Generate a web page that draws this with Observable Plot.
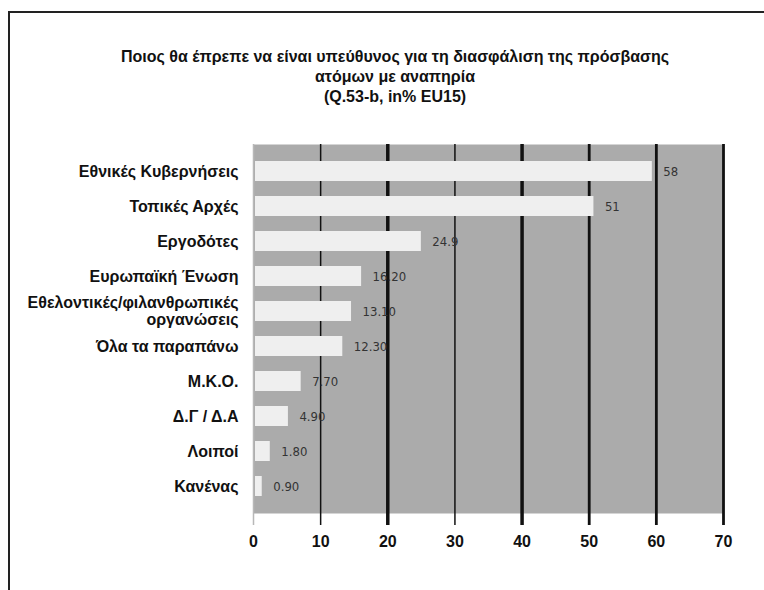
<!DOCTYPE html>
<html><head><meta charset="utf-8">
<script src="https://cdn.jsdelivr.net/npm/d3@7"></script>
<script src="https://cdn.jsdelivr.net/npm/@observablehq/plot@0.6"></script>
<style>
body{margin:0;background:#fff;width:764px;height:590px;overflow:hidden;position:relative;font-family:"Liberation Sans",Arial,sans-serif}
#frame{position:absolute;left:8px;top:11px;width:770px;height:600px;border-left:2px solid #222;border-top:2px solid #222}
#title{position:absolute;left:0;width:790px;top:47px;text-align:center;font-weight:bold;font-size:16px;line-height:20px;color:#111}
#chart{position:absolute;left:0;top:0}
</style></head>
<body>
<div id="frame"></div>
<div id="title">Ποιος θα έπρεπε να είναι υπεύθυνος για τη διασφάλιση της πρόσβασης<br>ατόμων με αναπηρία<br>(Q.53-b, in% EU15)</div>
<div id="chart"></div>
<script>
const categories = ["Εθνικές Κυβερνήσεις","Τοπικές Αρχές","Εργοδότες","Ευρωπαϊκή Ένωση","Εθελοντικές/φιλανθρωπικές\nοργανώσεις","Όλα τα παραπάνω","Μ.Κ.Ο.","Δ.Γ / Δ.Α","Λοιποί","Κανένας"];
const values = [59.4, 50.7, 25.0, 16.1, 14.6, 13.3, 7.1, 5.2, 2.5, 1.3];
const valueLabels = ["58","51","24.9","16.20","13.10","12.30","7.70","4.90","1.80","0.90"];
const xTicks = [0,10,20,30,40,50,60,70];

const data = categories.map((c,i)=>({cat:c, v:values[i], lab:valueLabels[i]}));
const gridW = t => (t===20||t===40) ? 3.5 : (t>=50 ? 2.8 : 1.5);
const gridC = t => t===0 ? "#b8b8b8" : "#111";

const chart = Plot.plot({
  width:764, height:590,
  marginLeft:253, marginRight:41, marginTop:144, marginBottom:77,
  style:{background:"transparent", fontFamily:"'Liberation Sans', Arial, sans-serif"},
  x:{domain:[0,70]},
  y:{domain:categories, padding:0.42},
  marks:[
    Plot.frame({fill:"#ababab", stroke:null}),
    Plot.ruleX(xTicks, {x:d=>d, stroke:gridC, strokeWidth:gridW, insetBottom:-12}),
    Plot.barX(data, {x:"v", y:"cat", fill:"#efefef", insetLeft:2}),
    Plot.text(data, {x:"v", y:"cat", text:"lab", dx:11, textAnchor:"start", fill:"#333", fontSize:13, fontFamily:"'Liberation Sans Narrow','DejaVu Sans Condensed',sans-serif"}),
    Plot.axisX({ticks:xTicks, tickSize:0, tickPadding:22, fontSize:16, fontWeight:"bold", fill:"#111", label:null, tickFormat:d=>String(d)}),
    Plot.axisY({tickSize:0, tickPadding:15, fontSize:16, fontWeight:"bold", fill:"#111", label:null, lineHeight:1.05})
  ]
});
document.getElementById("chart").appendChild(chart);
</script>
</body></html>
